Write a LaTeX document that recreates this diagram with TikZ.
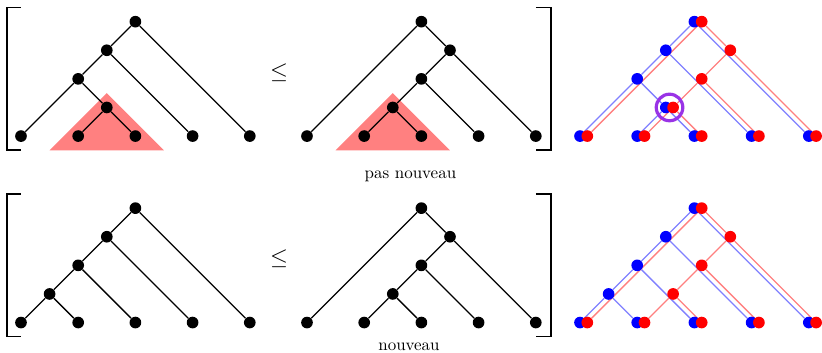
\documentclass[tikz,border=0pt]{standalone}
\usetikzlibrary{calc}
\pgfdeclarelayer{tri}
\pgfdeclarelayer{edges}
\pgfsetlayers{tri,edges,main}
\definecolor{ringcol}{RGB}{153,51,230}

% One binary tree on five leaves: #1 name prefix, #2 origin (leftmost leaf),
% #3 dot style, #4-#6 internal nodes a, b, c, #7 macro holding the edges u/v
\newcommand\bintree[7]{%
  \begin{scope}[shift={(#2)}]
    \foreach \k in {1,...,5} \node[#3] (#1l\k) at ({2*\k-2},0) {};
    \node[#3] (#1r) at (4,4) {};
    \node[#3] (#1a) at (#4) {};
    \node[#3] (#1b) at (#5) {};
    \node[#3] (#1c) at (#6) {};
  \end{scope}
  \begin{pgfonlayer}{edges}
    \foreach \u/\v in #7 \draw[#3 edge] (#1\u) -- (#1\v);
  \end{pgfonlayer}}

\begin{document}
\begin{tikzpicture}[x=17.875pt, y=17.875pt,
  dotbase/.style={circle, inner sep=0pt, minimum size=7.3pt},
  blk/.style={dotbase, fill=black},
  blk edge/.style={line width=0.8pt, black},
  blu/.style={dotbase, fill=blue},
  blu edge/.style={line width=0.8pt, blue!50},
  rd/.style={dotbase, fill=red},
  rd edge/.style={line width=0.8pt, red!50},
  bracket/.style={line width=0.8pt},
  subtree/.style={fill=red!50},
  caption/.style={anchor=base, font=\fontsize{10.6}{12}\selectfont},
  ring/.style={circle, draw=ringcol, line width=2pt, inner sep=0pt, minimum size=16.6pt}]
\useasboundingbox (0,0) rectangle (28.741,12.308);

% edge lists of the three tree shapes
\def\edgesA{r/a, r/l5, a/b, a/l4, b/l1, b/c, c/l2, c/l3}
\def\edgesB{r/l1, r/a, a/b, a/l5, b/c, b/l4, c/l2, c/l3}
\def\edgesC{r/a, r/l5, a/b, a/l4, b/c, b/l3, c/l1, c/l2}

% ---------- top row ----------
\begin{pgfonlayer}{tri}
  \fill[subtree] (3.734,9.05) -- (1.734,7.05) -- (5.734,7.05) -- cycle;
  \fill[subtree] (13.734,9.05) -- (11.734,7.05) -- (15.734,7.05) -- cycle;
\end{pgfonlayer}
\bintree{A}{0.734,7.55}{blk}{3,3}{2,2}{3,1}{\edgesA}
\bintree{B}{10.734,7.55}{blk}{5,3}{4,2}{3,1}{\edgesB}
\node (leqtop) at (9.755,9.77) {\Large$\leq$};
\draw[bracket] (0.734,12.04) -- (0.245,12.04) -- (0.245,7.06) -- (0.734,7.06);
\draw[bracket] (18.734,12.04) -- (19.27,12.04) -- (19.27,7.06) -- (18.734,7.06);
\node[caption] (pasnouv) at (14.35,6.05) {pas nouveau};

\bintree{P}{20.28,7.55}{blu}{3,3}{2,2}{3,1}{\edgesA}
\bintree{Q}{20.535,7.55}{rd}{5,3}{4,2}{3,1}{\edgesB}
\node[ring] (mark) at (23.41,8.55) {};

% ---------- bottom row ----------
\bintree{C}{0.734,1.03}{blk}{3,3}{2,2}{1,1}{\edgesC}
\bintree{D}{10.734,1.03}{blk}{5,3}{4,2}{3,1}{\edgesB}
\node (leqbot) at (9.755,3.25) {\Large$\leq$};
\draw[bracket] (0.734,5.52) -- (0.245,5.52) -- (0.245,0.54) -- (0.734,0.54);
\draw[bracket] (18.734,5.52) -- (19.27,5.52) -- (19.27,0.54) -- (18.734,0.54);
\node[caption] (nouv) at (14.3,0.045) {nouveau};

\bintree{R}{20.28,1.03}{blu}{3,3}{2,2}{1,1}{\edgesC}
\bintree{S}{20.535,1.03}{rd}{5,3}{4,2}{3,1}{\edgesB}
\end{tikzpicture}
\end{document}
